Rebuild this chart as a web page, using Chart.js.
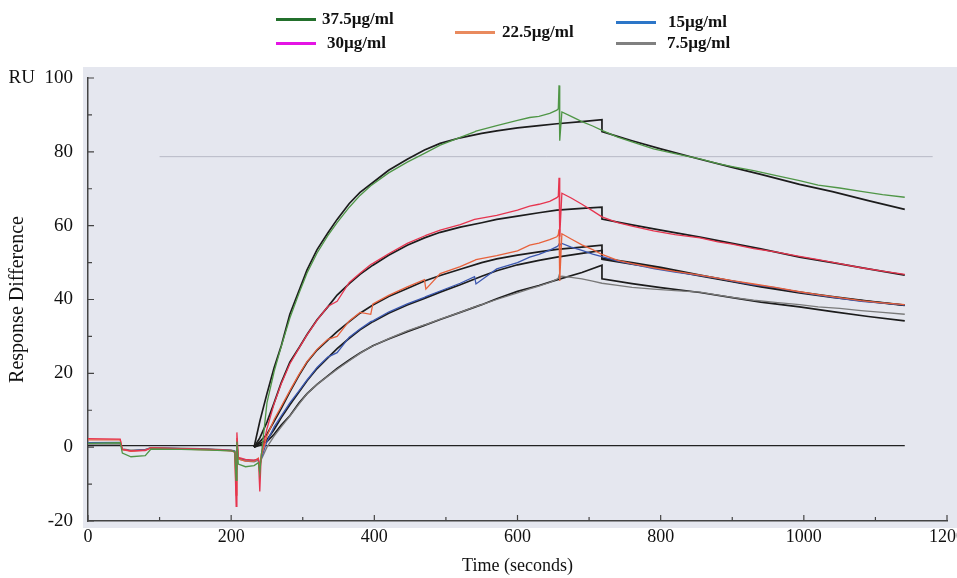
<!DOCTYPE html>
<html>
<head>
<meta charset="utf-8">
<script src="https://cdn.jsdelivr.net/npm/chart.js@4.4.1/dist/chart.umd.min.js"></script>
<style>
html, body { margin: 0; padding: 0; background: #fff; overflow: hidden; width: 957px; height: 578px; }
#wrap { position: relative; width: 957px; height: 578px; overflow: hidden; }
canvas { position: absolute; left: 0; top: 0; }
.lg { position: absolute; font-family: "Liberation Serif", "Times New Roman", serif; font-weight: bold; font-size: 17px; color: #111; line-height: 20px; white-space: nowrap; }
.sw { position: absolute; height: 3px; }
</style>
</head>
<body>
<div id="wrap">
  <canvas id="myChart" width="980" height="578"></canvas>
  <div id="legend"></div>
</div>
<script>
// legend (concentrations)
const legendLabels = ['37.5µg/ml', '30µg/ml', '22.5µg/ml', '15µg/ml', '7.5µg/ml'];
const legendColors = ['#23702c', '#e414e4', '#e98a5e', '#2c76c8', '#808080'];

// observed sensorgram, sample times (s)
const obsTime = [0, 45, 48, 60, 80, 88, 130, 170, 200, 205, 207, 208, 210, 220, 232, 238, 240, 242, 250, 260,
  270, 282, 295, 306, 320, 335, 348, 365, 380, 395, 398, 420, 446, 470, 472, 492, 520, 540, 542, 571,
  600, 617, 630, 645, 655, 657, 658, 659, 662, 675, 690, 705, 718, 740, 760, 790, 820, 855, 880, 900,
  930, 960, 994, 1020, 1050, 1080, 1110, 1141];

const obs375 = [1.0, 1.2, -1.6, -2.6, -2.3, -0.5, -0.6, -0.8, -1.0, -1.2, -9, 1.5, -4.6, -5.3, -5.0, -4.2, -7, -2.5, 12, 20.5,
  27.3, 35, 41.8, 47.2, 52.6, 57.3, 60.8, 65, 68.2, 70.8, 71.2, 74.3, 77.2, 79.6, 79.8, 81.8, 83.9, 85.4, 85.6, 87.1,
  88.5, 89.3, 89.6, 90.4, 91.3, 91.7, 98, 83, 90.8, 89.6, 88.2, 87.0, 85.8, 84.0, 82.7, 80.8, 79.5, 78.1, 76.8, 76.0,
  74.9, 73.6, 72.2, 71.0, 70.2, 69.3, 68.4, 67.7];

const obs30 = [2.3, 2.2, -0.6, -1.0, -0.9, -0.2, -0.4, -0.6, -0.9, -1.4, -16, 4, -2.8, -3.3, -3.5, -3.2, -12, -2.0, 5, 11.8,
  17.2, 22.6, 26.9, 30.4, 34.4, 38.1, 39.5, 44.6, 47.1, 49.5, 49.8, 52.4, 55.2, 57.2, 57.4, 58.8, 60.3, 61.7, 61.8, 62.8,
  64.2, 65.3, 65.8, 66.6, 67.6, 68, 73, 57, 68.8, 67.5, 65.8, 64.0, 62.4, 60.8, 59.9, 58.6, 57.6, 56.7, 55.6, 55.0,
  53.8, 52.9, 51.7, 50.8, 49.7, 48.6, 47.7, 46.8];

const obs225 = [2.0, 2.0, -0.7, -1.1, -0.8, -0.2, -0.5, -0.7, -1.0, -1.3, -13, 2.5, -3.2, -3.8, -3.8, -3.0, -6, -2.5, 3.0, 7.5,
  11.0, 15.3, 19.8, 23.2, 26.5, 29.2, 30.0, 34.2, 36.5, 36.0, 38.8, 41.1, 43.4, 45.4, 42.8, 47.0, 48.9, 50.6, 50.8, 51.9,
  53.2, 54.7, 55.3, 56.2, 57.0, 57.6, 59, 45, 57.8, 56.4, 54.8, 53.5, 52.2, 50.6, 49.7, 48.6, 47.6, 46.6, 45.8, 45.1,
  44.2, 43.3, 42.1, 41.3, 40.5, 39.7, 39.1, 38.6];

const obs15 = [1.2, 1.3, -0.6, -1.0, -0.7, -0.1, -0.4, -0.6, -0.9, -1.1, -6, 1.5, -3.0, -3.5, -3.6, -3.2, -5, -3.0, 1.5, 5.5,
  8.5, 12.0, 15.3, 18.2, 21.6, 24.4, 25.6, 29.8, 32.0, 34.0, 34.2, 36.6, 38.8, 40.6, 40.8, 42.3, 44.4, 46.2, 44.2, 48.3,
  50.0, 51.5, 52.2, 53.4, 54.3, 54.6, 55.0, 54.8, 55.2, 54.2, 53.3, 52.3, 51.6, 50.4, 49.6, 48.4, 47.4, 46.5, 45.7, 45.0,
  44.0, 43.2, 42.0, 41.2, 40.3, 39.5, 39.0, 38.5];

const obs75 = [0.8, 0.9, -0.5, -0.8, -0.6, -0.1, -0.3, -0.5, -0.8, -1.0, -5, 1, -3.2, -3.8, -4, -3.5, -5, -3.4, 0.0, 3.0,
  5.5, 8.4, 11.7, 14.5, 17.0, 19.2, 21.1, 23.4, 25.4, 27.2, 27.4, 29.4, 31.5, 33.1, 33.2, 34.7, 36.5, 38.0, 38.1, 40.0,
  41.8, 42.9, 43.6, 44.6, 45.5, 45.8, 46.5, 46.0, 46.3, 46.0, 45.6, 45.0, 44.4, 43.8, 43.3, 42.8, 42.4, 42.0, 41.2, 40.6,
  39.8, 39.2, 38.6, 38.0, 37.6, 37.0, 36.5, 36.0];

// fitted curves (black), times (s)
const fitTime = [232, 240, 250, 260, 270, 282, 295, 306, 320, 335, 348, 365, 380, 398, 420, 446, 470, 492, 520, 550,
  571, 600, 630, 655, 690, 718, 718, 760, 800, 855, 900, 940, 994, 1040, 1090, 1141];

const fit375 = [0, 7, 14.5, 21.5, 27.5, 36, 42.5, 48, 53.5, 58, 61.7, 66, 69, 71.7, 75, 78, 80.5, 82.3, 83.8, 85,
  85.7, 86.5, 87.1, 87.6, 88.2, 88.7, 85.5, 83, 80.8, 78, 75.8, 73.9, 71.2, 69.2, 66.8, 64.4];
const fit30 = [0, 2.5, 6.8, 12, 17.5, 23, 27, 30.5, 34.5, 38, 41.2, 44.3, 46.8, 49.3, 52, 54.7, 56.7, 58.2, 59.6, 60.8,
  61.7, 62.6, 63.5, 64.2, 64.7, 65, 61.8, 60.2, 58.8, 56.9, 55.2, 53.7, 51.5, 50, 48.3, 46.6];
const fit225 = [0, 1.5, 3.5, 7, 10.5, 15, 19.5, 23, 26.3, 29, 31.3, 34, 36.3, 38.5, 40.8, 43, 45, 46.5, 48.2, 50,
  51, 52, 52.9, 53.6, 54.2, 54.7, 51.2, 50, 48.7, 46.6, 45, 43.6, 42, 40.8, 39.6, 38.5];
const fit15 = [0, 1, 2, 4.8, 8, 11.5, 15, 18, 21.3, 24.2, 26.7, 29.5, 31.8, 34, 36.3, 38.5, 40.3, 42, 44, 46.3,
  47.8, 49.4, 50.6, 51.5, 52.5, 53.3, 50.9, 49.6, 48.4, 46.4, 44.8, 43.4, 41.8, 40.6, 39.5, 38.4];
const fit75 = [0, 0.5, 1.5, 3.5, 6, 8.5, 12, 14.5, 17, 19.3, 21.3, 23.6, 25.5, 27.5, 29.3, 31.3, 33, 34.6, 36.5, 38.6,
  40.2, 42.2, 43.8, 45.3, 47.3, 49.3, 45.6, 44.3, 43.2, 41.9, 40.5, 39.3, 38, 36.7, 35.4, 34.2];

// zero reference line and faint scan line
const baseTime = [0, 1141];
const baseVal = [0.4, 0.4];
const scanTime = [100, 1180];
const scanVal = [78.7, 78.7];

// legend html
const legendPos = [[276, 19, 322], [276, 43, 327], [455, 32, 502], [616, 22, 668], [616, 43, 667]];
const legendDiv = document.getElementById('legend');
legendLabels.forEach(function(lab, i) {
    var p = legendPos[i];
    var sw = document.createElement('div');
    sw.className = 'sw';
    sw.style.left = p[0] + 'px';
    sw.style.top = (p[1] - 1) + 'px';
    sw.style.width = '40px';
    sw.style.background = legendColors[i];
    legendDiv.appendChild(sw);
    var tx = document.createElement('div');
    tx.className = 'lg';
    tx.style.left = p[2] + 'px';
    tx.style.top = (p[1] - 10) + 'px';
    tx.textContent = lab;
    legendDiv.appendChild(tx);
});

const pts = (xs, ys) => xs.map((t, i) => ({x: t, y: ys[i]}));

const obsColors = ['#4f9646', '#e6354f', '#e8623c', '#3c58b0', '#7a7a7a'];
const observed = [obs375, obs30, obs225, obs15, obs75];
const fits = [fit375, fit30, fit225, fit15, fit75];

const datasets = [];
observed.forEach(function(vals, i) {
    datasets.push({
        label: legendLabels[i], data: pts(obsTime, vals),
        borderColor: obsColors[i], borderWidth: 1.3, order: i
    });
});
fits.forEach(function(vals, i) {
    datasets.push({
        label: 'fit ' + legendLabels[i], data: pts(fitTime, vals),
        borderColor: '#1c1c1c', borderWidth: 1.7, order: 10
    });
});
datasets.push({ label: 'baseline', data: pts(baseTime, baseVal), borderColor: '#222', borderWidth: 1.3, order: 11 });
datasets.push({ label: 'scan', data: pts(scanTime, scanVal), borderColor: 'rgba(150,152,165,0.55)', borderWidth: 1, order: 20 });

// background panel + inward tick marks
const plotDeco = {
    id: 'plotDeco',
    beforeDraw(chart) {
        const {ctx, chartArea: a} = chart;
        ctx.save();
        ctx.fillStyle = '#e5e7ef';
        ctx.fillRect(a.left - 5, a.top - 11, chart.width, a.bottom - a.top + 18);
        ctx.restore();
    },
    afterDraw(chart) {
        const {ctx, chartArea: a, scales: {x, y}} = chart;
        ctx.save();
        ctx.strokeStyle = '#444';
        ctx.lineWidth = 1.2;
        ctx.beginPath();
        for (let v = -20; v <= 100; v += 10) {
            const py = y.getPixelForValue(v);
            ctx.moveTo(a.left, py);
            ctx.lineTo(a.left + (v % 20 === 0 ? 6 : 4), py);
        }
        for (let t = 0; t <= 1200; t += 100) {
            const px = x.getPixelForValue(t);
            ctx.moveTo(px, a.bottom);
            ctx.lineTo(px, a.bottom - (t % 200 === 0 ? 6 : 4));
        }
        ctx.stroke();
        ctx.restore();
    }
};

const serif = '"Liberation Serif", "Times New Roman", serif';

const config = {
    type: 'line',
    data: { datasets: datasets },
    options: {
        responsive: false,
        animation: false,
        devicePixelRatio: 1,
        parsing: false,
        elements: { point: { radius: 0 }, line: { tension: 0, fill: false } },
        layout: { padding: { top: 78, right: 33, bottom: 0, left: 0 } },
        plugins: { legend: { display: false }, tooltip: { enabled: false } },
        scales: {
            x: {
                type: 'linear', min: 0, max: 1200,
                grid: { display: false, drawTicks: false },
                border: { display: true, color: '#444', width: 1.5 },
                ticks: {
                    stepSize: 200, padding: 5, color: '#111', font: { family: serif, size: 18 },
                    callback: function(v) { return String(v); }
                },
                title: { display: true, text: 'Time (seconds)', color: '#111', font: { family: serif, size: 18 }, padding: { top: 0, bottom: 1 } },
                afterFit(s) { s.height = 57; s.paddingLeft = 0; s.paddingRight = 0; }
            },
            y: {
                min: -20, max: 100,
                grid: { display: false, drawTicks: false },
                border: { display: true, color: '#444', width: 1.5 },
                ticks: {
                    stepSize: 20, padding: 15, color: '#111', font: { family: serif, size: 19 },
                    callback: function(v) { return v === 100 ? 'RU  100' : String(v); }
                },
                title: { display: true, text: 'Response Difference', color: '#111', font: { family: serif, size: 20 }, padding: { top: 6, bottom: 0 } },
                afterFit(s) { s.width = 88; s.paddingTop = 0; s.paddingBottom = 0; }
            }
        }
    },
    plugins: [plotDeco]
};

var ctx = document.getElementById('myChart').getContext('2d');
var myChart = new Chart(ctx, config);
</script>
</body>
</html>
